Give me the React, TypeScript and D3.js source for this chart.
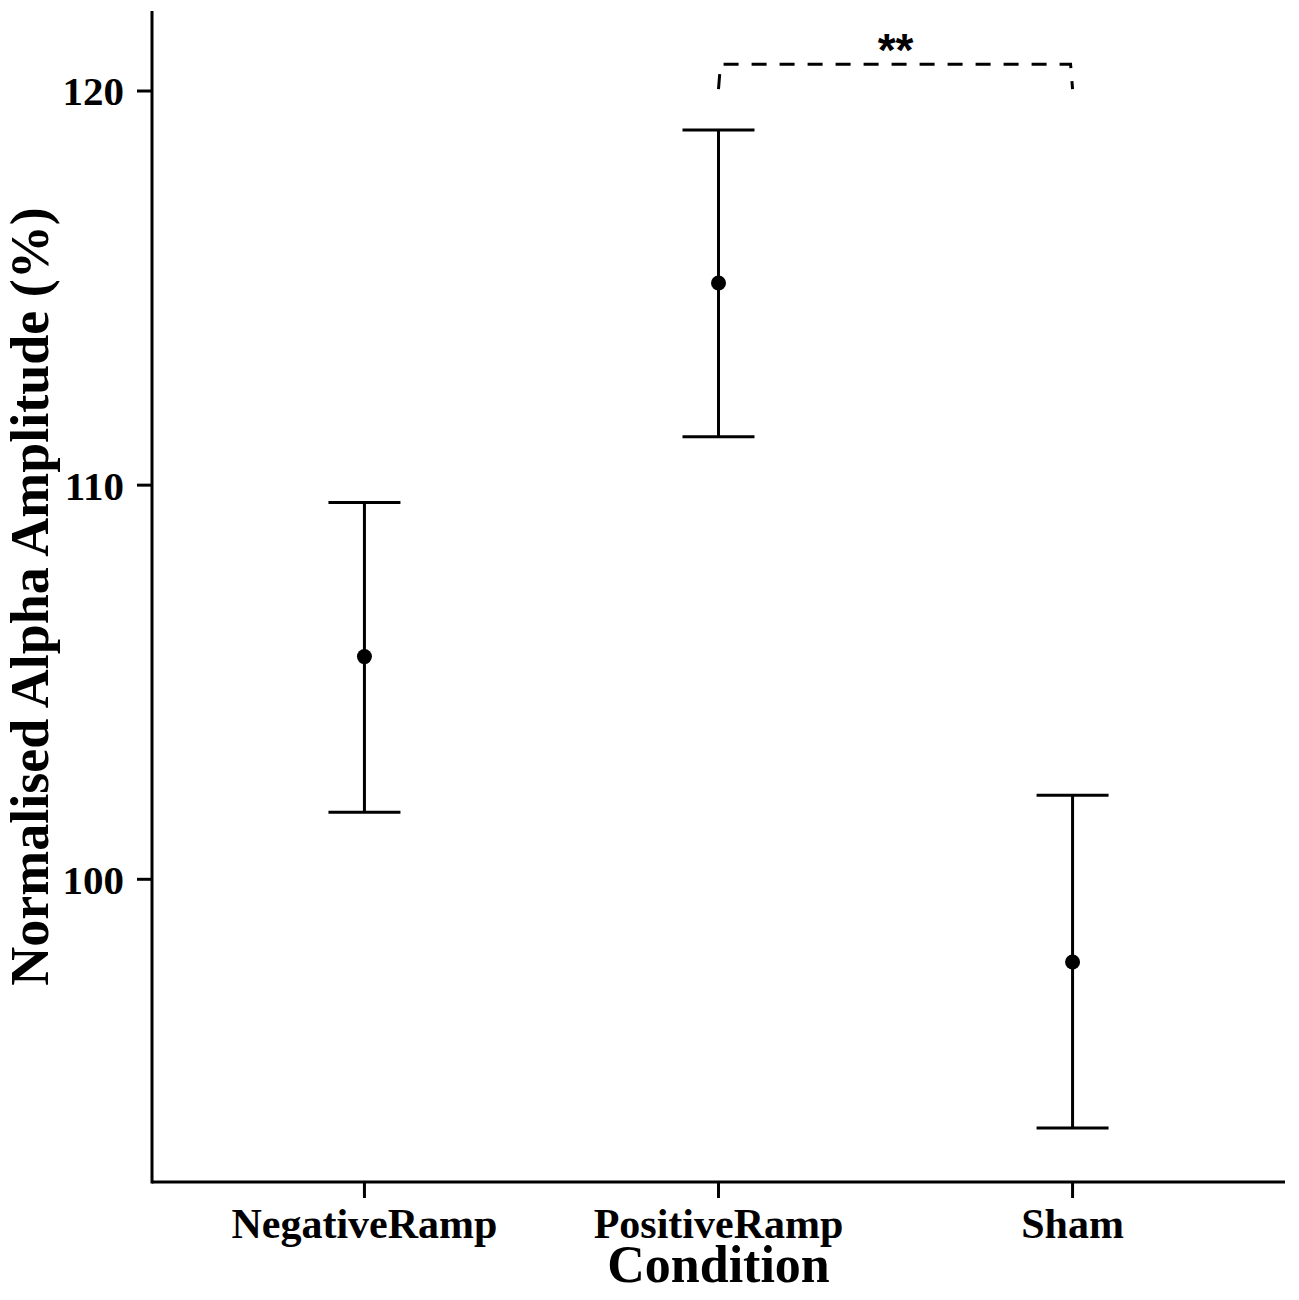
import React from 'react';
import * as d3 from 'd3';

const conditions = ['NegativeRamp', 'PositiveRamp', 'Sham'];
const means = [105.65, 115.13, 97.9];
const upper = [109.56, 119.01, 102.13];
const lower = [101.7, 111.23, 93.69];
const yTicks = [100, 110, 120];
// significance bracket between PositiveRamp and Sham
const sigPair = ['PositiveRamp', 'Sham'];
const sigLabel = '**';
const sigBase = 120.05;
const sigTop = 120.68;

const W = 1299;
const H = 1300;
const margin = { top: 11, right: 14, bottom: 118, left: 152 };
const font = '"Liberation Serif", "Times New Roman", serif';

export default function App() {
  const x = d3
    .scalePoint<string>()
    .domain(conditions)
    .range([margin.left, W - margin.right])
    .padding(0.6);
  const y = d3
    .scaleLinear()
    .domain([92.32, 122.03])
    .range([H - margin.bottom, margin.top]);

  const x0 = margin.left;
  const y0 = H - margin.bottom;
  const capHalf = 36;

  const bx1 = x(sigPair[0])!;
  const bx2 = x(sigPair[1])!;
  const bracket = d3.path();
  bracket.moveTo(bx1, y(sigBase));
  bracket.lineTo(bx1 + 2, y(sigTop));
  bracket.lineTo(bx2 - 2, y(sigTop));
  bracket.lineTo(bx2, y(sigBase));

  return (
    <svg width={W} height={H} style={{ display: 'block', margin: '-8px', background: '#fff' }}>
      <g fontFamily={font} fontWeight="bold" fill="#000">
        {/* axes */}
        <line x1={x0} x2={x0} y1={margin.top} y2={y0 + 1.5} stroke="#000" strokeWidth={3} />
        <line x1={x0} x2={W - margin.right} y1={y0} y2={y0} stroke="#000" strokeWidth={3} />

        {yTicks.map((t) => (
          <g key={t}>
            <line x1={x0 - 15} x2={x0} y1={y(t)} y2={y(t)} stroke="#000" strokeWidth={3} />
            <text x={x0 - 28} y={y(t)} dy="0.35em" textAnchor="end" fontSize={41}>
              {t}
            </text>
          </g>
        ))}

        {conditions.map((c) => (
          <g key={c}>
            <line x1={x(c)} x2={x(c)} y1={y0} y2={y0 + 16} stroke="#000" strokeWidth={3} />
            <text x={x(c)} y={y0 + 56} textAnchor="middle" fontSize={42}>
              {c}
            </text>
          </g>
        ))}

        <text x={(x0 + W - margin.right) / 2} y={1282} textAnchor="middle" fontSize={52}>
          Condition
        </text>
        <text
          transform={`translate(48, ${(margin.top + y0) / 2}) rotate(-90)`}
          textAnchor="middle"
          fontSize={54}
        >
          Normalised Alpha Amplitude (%)
        </text>

        {/* error bars and means */}
        {conditions.map((c, i) => (
          <g key={c} stroke="#000" strokeWidth={3}>
            <line x1={x(c)} x2={x(c)} y1={y(upper[i])} y2={y(lower[i])} />
            <line x1={x(c)! - capHalf} x2={x(c)! + capHalf} y1={y(upper[i])} y2={y(upper[i])} />
            <line x1={x(c)! - capHalf} x2={x(c)! + capHalf} y1={y(lower[i])} y2={y(lower[i])} />
            <circle cx={x(c)} cy={y(means[i])} r={7.5} fill="#000" stroke="none" />
          </g>
        ))}

        {/* significance */}
        <path d={bracket.toString()} fill="none" stroke="#000" strokeWidth={3} strokeDasharray="15,13" />
        <text
          x={(bx1 + bx2) / 2}
          y={y(sigTop) + 2}
          textAnchor="middle"
          fontSize={46}
          fontFamily='"Liberation Sans", Arial, sans-serif'
        >
          {sigLabel}
        </text>
      </g>
    </svg>
  );
}
